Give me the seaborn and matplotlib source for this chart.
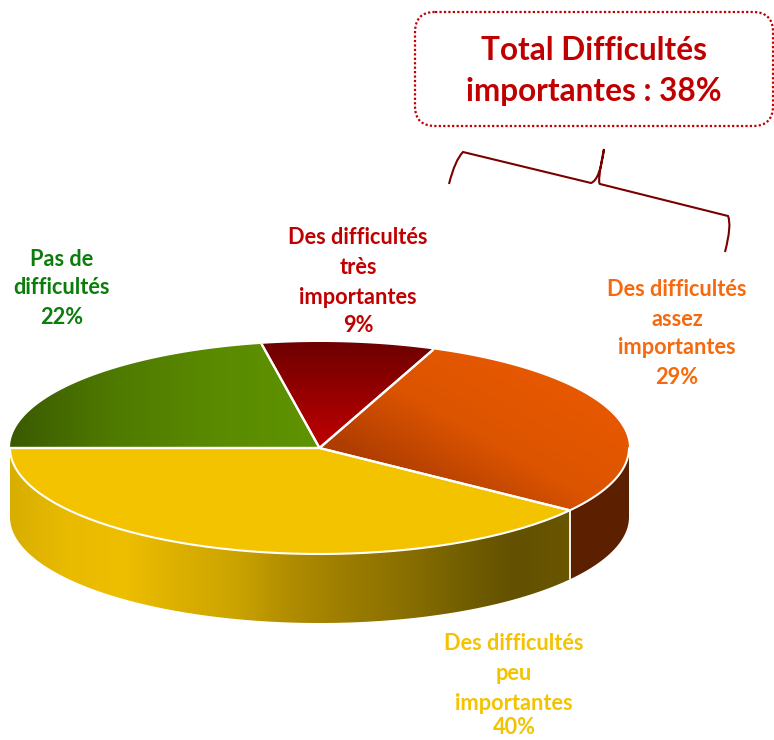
import numpy as np
import matplotlib
matplotlib.use('Agg')
import matplotlib.pyplot as plt
import seaborn as sns
from matplotlib.patches import FancyBboxPatch, PathPatch, Polygon
from matplotlib.path import Path

categories = ['Pas de\ndifficultés', 'Des difficultés\ntrès\nimportantes',
              'Des difficultés\nassez\nimportantes', 'Des difficultés\npeu\nimportantes']
values = [22, 9, 29, 40]
label_colors = ['#0b7d0b', '#c00000', '#f56a0e', '#f4c300']
total_label = 'Total Difficultés\nimportantes : 38%'

sns.set_theme(style='white')
plt.rcParams['font.family'] = ['Lato', 'DejaVu Sans']

fig = plt.figure(figsize=(7.74, 7.40), dpi=100)
ax = fig.add_axes([0, 0, 1, 1])

# geometry of the pie, in pixels of the picture
cx, cy = 319.5, 448
rx, ry = 309.5, 106
depth = 69
W, H = 774, 740


def arc(a0, a1, dy=0):
    t = np.radians(np.linspace(a0, a1, 200))
    return np.column_stack([cx + rx * np.cos(t), cy - ry * np.sin(t) + dy])


def fill(poly, colors, direction, extent):
    # gradient picture clipped on a polygon
    cmap = sns.blend_palette(colors, as_cmap=True)
    g = np.linspace(0, 1, 256)
    if direction == 'h':
        img = g[None, :]
    elif direction == 'v':
        img = g[:, None]
    else:
        img = (g[None, :] + g[:, None]) / 2
    im = ax.imshow(img, cmap=cmap, extent=extent, aspect='auto', zorder=2,
                   vmin=0, vmax=1, interpolation='bilinear')
    patch = Polygon(poly, closed=True, transform=ax.transData, fc='none', ec='none')
    ax.add_patch(patch)
    im.set_clip_path(patch)


angles = 180 - np.cumsum([0] + values) * 3.6

# side of the cake
a_split = angles[3]
side_yellow = np.vstack([arc(180, 360 + a_split), arc(360 + a_split, 180, depth)])
side_orange = np.vstack([arc(a_split, 0), arc(0, a_split, depth)])
fill(side_yellow, ['#d8ae00', '#e8ba00', '#eebe00', '#dcb000', '#cba400', '#b08c00',
                   '#9c7d00', '#8a7000', '#746000', '#635000', '#6a5600'],
     'h', (10, 572, 740, 0))
fill(side_orange, ['#5c2000', '#5c2000'], 'h', (570, 630, 740, 0))

# top of the cake
styles = [
    (['#3a5a00', '#4f7a00', '#5a8a00', '#5f9400'], 'h', (10, 320, 740, 0)),
    (['#6e0000', '#c00000'], 'v', (260, 432, cy, 342)),
    (['#983400', '#b03e00', '#dc5400', '#e65800', '#e65800'], 'd', (319, 630, 342, 520)),
    (['#f4c300', '#f4c300'], 'h', (0, 774, 740, 0)),
]
for i, (colors, direction, extent) in enumerate(styles):
    a0, a1 = angles[i], angles[i + 1]
    fill(np.vstack([[cx, cy], arc(a0, a1)]), colors, direction, extent)
    ax.plot(*np.vstack([arc(a0, a0), [cx, cy], arc(a1, a1)]).T, color='white', lw=1.6,
            zorder=3, solid_capstyle='butt')

# white lines on the rim
ax.plot(*arc(180, 360).T, color='white', lw=1.5, zorder=3)
ax.plot([cx + rx * np.cos(np.radians(a_split))] * 2,
        [cy - ry * np.sin(np.radians(a_split)), cy - ry * np.sin(np.radians(a_split)) + depth],
        color='white', lw=1.3, zorder=3)

# box
box = FancyBboxPatch((433, 30), 322, 78, boxstyle='round,pad=18,rounding_size=20',
                     fc='white', ec='#c00000', ls=(0, (1, 1)), lw=1.6, zorder=4)
ax.add_patch(box)
for line, y in zip(total_label.split('\n'), [50, 91]):
    ax.text(594, y, line, color='#c00000', fontsize=22.7, fontweight='bold',
            ha='center', va='center', zorder=5)

# brace
verts = [(449, 184), (455, 160), (463, 152), (591, 183), (600, 180), (604, 149),
         (597, 183), (600, 184), (728, 216), (732, 225), (725, 252)]
codes = [Path.MOVETO, Path.CURVE3, Path.CURVE3, Path.LINETO, Path.CURVE3, Path.CURVE3,
         Path.CURVE3, Path.CURVE3, Path.LINETO, Path.CURVE3, Path.CURVE3]
ax.add_patch(PathPatch(Path(verts, codes), fc='none', ec='#7a0000', lw=1.5, zorder=4))

# labels
label_pos = [(62, [260, 288, 318]), (358, [238, 267, 297, 326]),
             (677, [290, 319, 348, 378]), (514, [644, 673, 703, 728])]
for cat, val, col, (x, ys) in zip(categories, values, label_colors, label_pos):
    lines = cat.split('\n') + [f'{val}%']
    for line, y in zip(lines, ys):
        ax.text(x, y, line, color=col, fontsize=15.7, fontweight='bold',
                ha='center', va='center', zorder=5)

ax.set_xlim(0, W)
ax.set_ylim(H, 0)
ax.axis('off')
sns.despine(ax=ax, left=True, bottom=True)

fig.savefig('out.png', dpi=100, facecolor='white')
